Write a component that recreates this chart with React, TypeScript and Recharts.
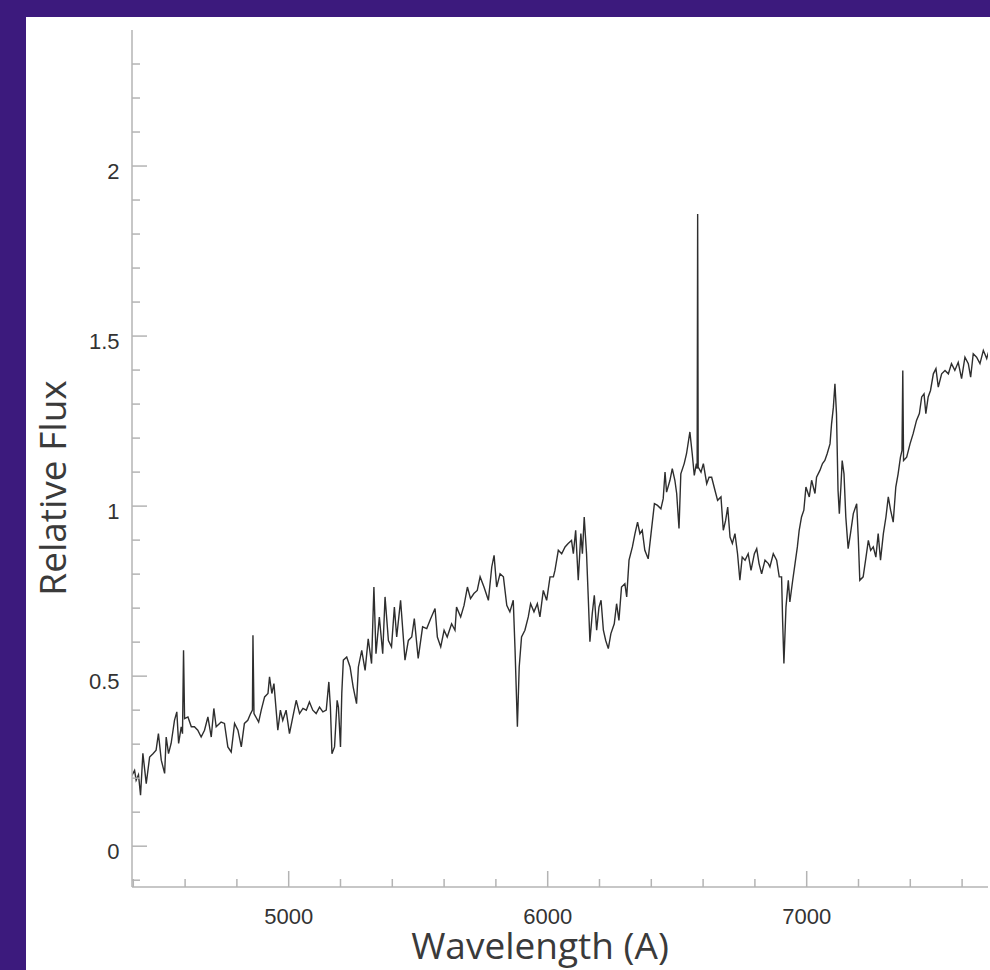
import { Line, LineChart, XAxis, YAxis } from 'recharts';

// spectrum (wavelength in Å, relative flux)
const wavelength = [
  4392, 4405, 4411, 4420, 4428, 4437, 4450, 4463, 4476, 4488, 4497, 4508, 4521, 4527, 4536, 4546, 4559, 4568, 4575, 4585,
  4590, 4594, 4598, 4611, 4624, 4636, 4649, 4662, 4675, 4688, 4701, 4711, 4720, 4739, 4752, 4765, 4778, 4791, 4804, 4817,
  4829, 4842, 4853, 4860, 4862, 4866, 4884, 4894, 4907, 4920, 4926, 4935, 4943, 4958, 4968, 4977, 4990, 5003, 5016, 5029,
  5042, 5055, 5068, 5080, 5093, 5106, 5119, 5132, 5145, 5155, 5161, 5167, 5177, 5187, 5192, 5200, 5205, 5211, 5224, 5237,
  5249, 5262, 5269, 5282, 5295, 5307, 5320, 5329, 5337, 5350, 5363, 5372, 5385, 5397, 5408, 5417, 5432, 5449, 5462, 5475,
  5485, 5500, 5517, 5533, 5548, 5565, 5574, 5587, 5600, 5612, 5629, 5642, 5648, 5664, 5677, 5690, 5702, 5715, 5728, 5739,
  5754, 5771, 5784, 5793, 5803, 5816, 5829, 5842, 5854, 5867, 5874, 5883, 5890, 5899, 5912, 5925, 5934, 5947, 5960, 5970,
  5983, 5996, 6009, 6022, 6028, 6041, 6054, 6067, 6079, 6092, 6099, 6108, 6118, 6128, 6134, 6141, 6150, 6157, 6163, 6172,
  6180, 6189, 6198, 6206, 6215, 6224, 6234, 6244, 6257, 6266, 6275, 6285, 6298, 6305, 6314, 6327, 6337, 6347, 6356, 6365,
  6375, 6388, 6399, 6412, 6424, 6437, 6446, 6453, 6459, 6472, 6481, 6491, 6498, 6507, 6514, 6527, 6536, 6549, 6558, 6566,
  6574, 6577, 6579, 6581, 6592, 6601, 6614, 6623, 6633, 6646, 6656, 6669, 6678, 6687, 6695, 6704, 6713, 6723, 6733, 6742,
  6751, 6762, 6774, 6785, 6798, 6807, 6816, 6826, 6839, 6852, 6858, 6871, 6884, 6894, 6903, 6907, 6912, 6920, 6929, 6935,
  6946, 6955, 6964, 6971, 6980, 6989, 6997, 7010, 7019, 7032, 7038, 7051, 7061, 7070, 7079, 7090, 7096, 7103, 7109, 7115,
  7121, 7126, 7132, 7137, 7144, 7151, 7160, 7169, 7180, 7193, 7199, 7205, 7218, 7229, 7238, 7247, 7257, 7267, 7276, 7285,
  7296, 7306, 7315, 7324, 7334, 7344, 7353, 7362, 7368, 7371, 7374, 7386, 7399, 7411, 7424, 7435, 7444, 7453, 7460, 7469,
  7478, 7489, 7499, 7508, 7521, 7534, 7547, 7559, 7572, 7585, 7598, 7611, 7624, 7633, 7643, 7656, 7669, 7682, 7695, 7704,
];

const flux = [
  0.204, 0.223, 0.194, 0.21, 0.15, 0.273, 0.184, 0.262, 0.272, 0.282, 0.331, 0.253, 0.214, 0.321, 0.272, 0.302, 0.37, 0.395, 0.302, 0.351,
  0.331, 0.576, 0.375, 0.38, 0.351, 0.351, 0.341, 0.321, 0.341, 0.38, 0.321, 0.405, 0.351, 0.365, 0.361, 0.292, 0.277, 0.361, 0.341, 0.292,
  0.361, 0.37, 0.39, 0.4, 0.62, 0.39, 0.365, 0.4, 0.439, 0.449, 0.498, 0.449, 0.478, 0.341, 0.4, 0.37, 0.4, 0.331, 0.38, 0.429,
  0.39, 0.405, 0.4, 0.424, 0.4, 0.39, 0.409, 0.395, 0.4, 0.483, 0.409, 0.272, 0.292, 0.429, 0.409, 0.292, 0.45, 0.547, 0.556, 0.527,
  0.468, 0.419, 0.527, 0.576, 0.517, 0.61, 0.537, 0.762, 0.566, 0.674, 0.566, 0.733, 0.605, 0.586, 0.703, 0.615, 0.723, 0.547, 0.605, 0.615,
  0.669, 0.552, 0.645, 0.64, 0.669, 0.699, 0.615, 0.586, 0.635, 0.615, 0.654, 0.635, 0.703, 0.674, 0.708, 0.762, 0.728, 0.743, 0.752, 0.792,
  0.762, 0.723, 0.821, 0.855, 0.762, 0.801, 0.792, 0.708, 0.689, 0.723, 0.576, 0.351, 0.527, 0.615, 0.635, 0.674, 0.713, 0.689, 0.713, 0.674,
  0.752, 0.723, 0.792, 0.792, 0.811, 0.87, 0.86, 0.88, 0.89, 0.899, 0.86, 0.929, 0.782, 0.919, 0.86, 0.968, 0.86, 0.723, 0.601, 0.684,
  0.738, 0.635, 0.703, 0.723, 0.635, 0.605, 0.581, 0.625, 0.654, 0.713, 0.664, 0.762, 0.772, 0.733, 0.841, 0.88, 0.919, 0.953, 0.919, 0.929,
  0.87, 0.845, 0.919, 1.007, 1.002, 0.992, 1.022, 1.1, 1.041, 1.076, 1.11, 1.076, 1.037, 0.934, 1.095, 1.125, 1.154, 1.218, 1.154, 1.09,
  1.125, 1.11, 1.859, 1.115, 1.1, 1.125, 1.066, 1.085, 1.085, 1.046, 1.017, 1.027, 0.929, 0.958, 0.997, 0.909, 0.89, 0.919, 0.86, 0.782,
  0.85, 0.841, 0.86, 0.811, 0.86, 0.875, 0.831, 0.801, 0.841, 0.831, 0.821, 0.86, 0.841, 0.792, 0.792, 0.664, 0.537, 0.703, 0.782, 0.718,
  0.782, 0.831, 0.88, 0.929, 0.968, 0.988, 1.056, 1.027, 1.076, 1.037, 1.085, 1.105, 1.125, 1.134, 1.154, 1.183, 1.242, 1.291, 1.36, 1.272,
  1.046, 0.978, 1.056, 1.134, 1.095, 0.968, 0.875, 0.919, 0.978, 1.007, 0.909, 0.782, 0.792, 0.85, 0.899, 0.87, 0.88, 0.85, 0.919, 0.841,
  0.919, 0.968, 1.027, 0.988, 0.953, 1.056, 1.095, 1.144, 1.164, 1.399, 1.134, 1.144, 1.183, 1.213, 1.252, 1.272, 1.321, 1.33, 1.272, 1.321,
  1.34, 1.389, 1.404, 1.35, 1.389, 1.399, 1.389, 1.419, 1.399, 1.423, 1.375, 1.438, 1.419, 1.379, 1.448, 1.438, 1.419, 1.458, 1.434, 1.458,
];

const xMajorTicks = [5000, 6000, 7000];
const xTickLabels = ['5000', '6000', '7000'];
const xMinorTicks = [4400, 4600, 4800, 5200, 5400, 5600, 5800, 6200, 6400, 6600, 6800, 7200, 7400, 7600];

const yMajorTicks = [0, 0.5, 1, 1.5, 2];
const yTickLabels = ['0', '0.5', '1', '1.5', '2'];
const yMinorTicks = [
  -0.1, 0.1, 0.2, 0.3, 0.4, 0.6, 0.7, 0.8, 0.9, 1.1, 1.2, 1.3, 1.4, 1.6, 1.7, 1.8, 1.9, 2.1, 2.2, 2.3,
];

const data = wavelength.map((w, i) => ({ w, f: flux[i] }));
const xTicks = [...xMinorTicks, ...xMajorTicks].sort((a, b) => a - b);
const yTicks = [...yMinorTicks, ...yMajorTicks].sort((a, b) => a - b);

const AXIS = '#b4b4b4';
const LABEL = { fontFamily: '"Liberation Sans", Arial, sans-serif', fontSize: 22, fill: '#333' };

function BottomTick(props: any) {
  const { x, y, payload } = props;
  const i = xMajorTicks.indexOf(payload.value);
  return (
    <g>
      <line x1={x} y1={y} x2={x} y2={y - (i >= 0 ? 16 : 8)} stroke={AXIS} strokeWidth={1.5} />
      {i >= 0 && (
        <text x={x} y={y + 37} textAnchor="middle" {...LABEL}>
          {xTickLabels[i]}
        </text>
      )}
    </g>
  );
}

function TopTick(props: any) {
  const { x, y, payload } = props;
  const major = xMajorTicks.includes(payload.value);
  return <line x1={x} y1={y} x2={x} y2={y + (major ? 15 : 8)} stroke={AXIS} strokeWidth={1.5} />;
}

function LeftTick(props: any) {
  const { x, y, payload } = props;
  const i = yMajorTicks.indexOf(payload.value);
  return (
    <g>
      <line x1={x} y1={y} x2={x + (i >= 0 ? 15 : 8)} y2={y} stroke={AXIS} strokeWidth={1.5} />
      {i >= 0 && (
        <text x={x - 12.5} y={y + 12.5} textAnchor="end" {...LABEL}>
          {yTickLabels[i]}
        </text>
      )}
    </g>
  );
}

function RightTick(props: any) {
  const { x, y, payload } = props;
  const major = yMajorTicks.includes(payload.value);
  return <line x1={x - (major ? 15 : 8)} y1={y} x2={x} y2={y} stroke={AXIS} strokeWidth={1.5} />;
}

export default function App() {
  return (
    <div style={{ position: 'absolute', left: 0, top: 0, width: 990, height: 970, background: '#3c1a7d', overflow: 'hidden' }}>
      <div style={{ position: 'absolute', left: 26, top: 17, width: 964, height: 953, background: '#fff' }} />
      <div style={{ position: 'absolute', left: 0, top: 0 }}>
        <LineChart width={990} height={970} data={data} margin={{ top: 30, right: 2, bottom: 0, left: 0 }}>
          <XAxis
            xAxisId="b"
            dataKey="w"
            type="number"
            domain={[4395, 7700]}
            allowDataOverflow
            ticks={xTicks}
            interval={0}
            height={83}
            tickSize={0}
            tickMargin={0}
            tickLine={false}
            axisLine={{ stroke: AXIS, strokeWidth: 1.5 }}
            tick={<BottomTick />}
          />
          <XAxis
            xAxisId="t"
            orientation="top"
            type="number"
            domain={[4395, 7700]}
            allowDataOverflow
            ticks={xTicks}
            interval={0}
            height={0}
            tickSize={0}
            tickMargin={0}
            tickLine={false}
            axisLine={{ stroke: AXIS, strokeWidth: 1.5 }}
            tick={<TopTick />}
          />
          <YAxis
            yAxisId="l"
            type="number"
            domain={[-0.12, 2.4]}
            allowDataOverflow
            ticks={yTicks}
            interval={0}
            width={132}
            tickSize={0}
            tickMargin={0}
            tickLine={false}
            axisLine={{ stroke: AXIS, strokeWidth: 1.5 }}
            tick={<LeftTick />}
          />
          <YAxis
            yAxisId="r"
            orientation="right"
            type="number"
            domain={[-0.12, 2.4]}
            allowDataOverflow
            ticks={yTicks}
            interval={0}
            width={0}
            tickSize={0}
            tickMargin={0}
            tickLine={false}
            axisLine={{ stroke: AXIS, strokeWidth: 1.5 }}
            tick={<RightTick />}
          />
          <Line
            xAxisId="b"
            yAxisId="l"
            type="linear"
            dataKey="f"
            stroke="#2e2e2e"
            strokeWidth={1.4}
            dot={false}
            activeDot={false}
            isAnimationActive={false}
          />
        </LineChart>
      </div>
      <svg width={990} height={970} style={{ position: 'absolute', left: 0, top: 0, pointerEvents: 'none' }}>
        <text x={540} y={959} textAnchor="middle" fontFamily='"Open Sans", sans-serif' fontSize={37} fill="#3a3a3a">
          Wavelength (A)
        </text>
        <text
          x={66}
          y={488}
          transform="rotate(-90 66 488)"
          textAnchor="middle"
          fontFamily='"Open Sans", sans-serif'
          fontSize={37}
          fill="#3a3a3a"
        >
          Relative Flux
        </text>
      </svg>
    </div>
  );
}
